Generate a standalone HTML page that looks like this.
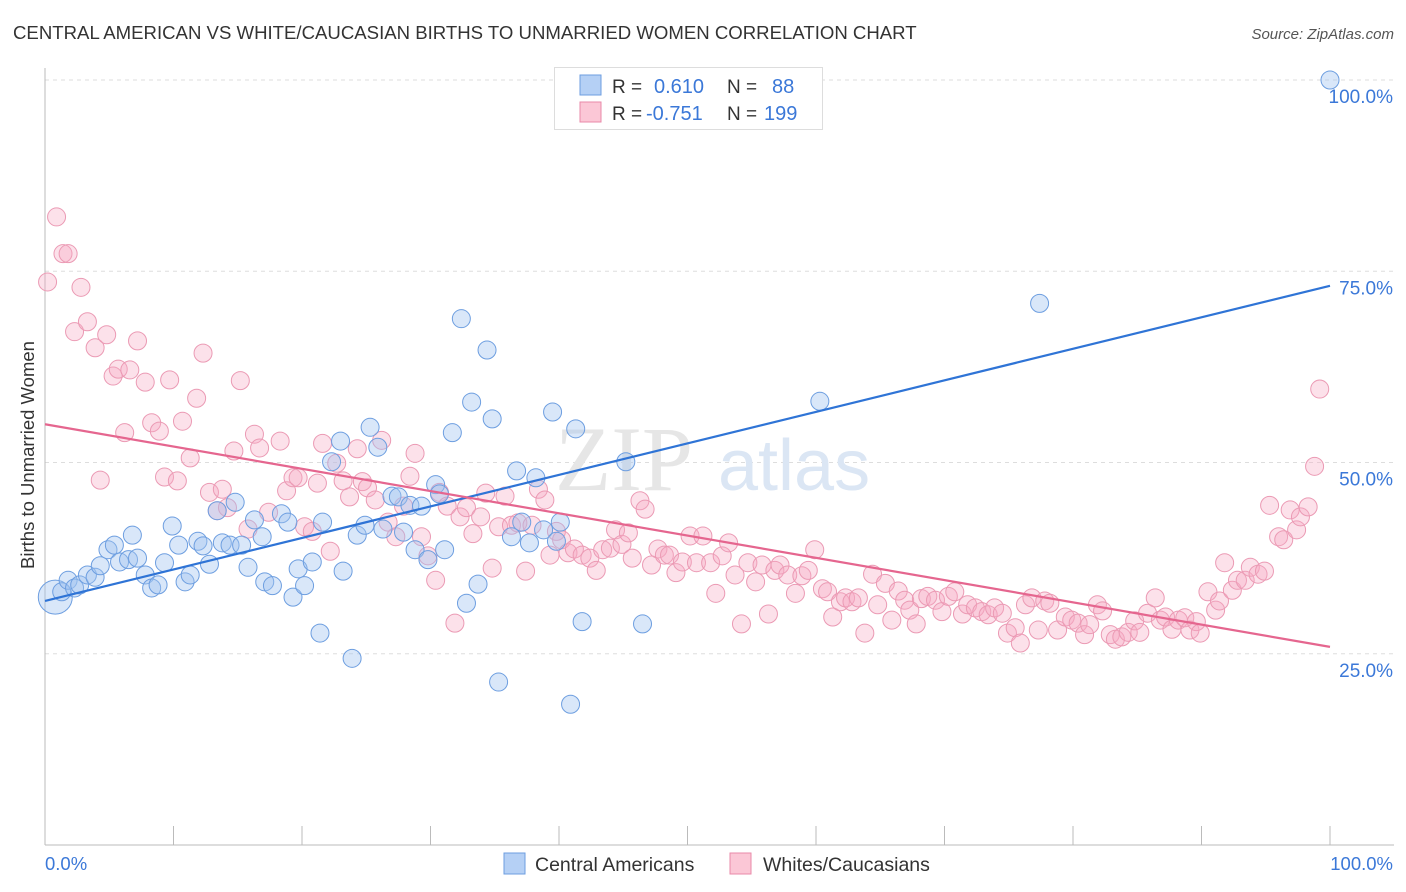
<!DOCTYPE html>
<html><head><meta charset="utf-8"><style>
body{margin:0;background:#fff;font-family:"Liberation Sans",sans-serif;}
svg{display:block}
</style></head><body>
<svg id="chart" width="1406" height="892" xmlns="http://www.w3.org/2000/svg">
<text x="13" y="39" font-size="18.6" fill="#333">CENTRAL AMERICAN VS WHITE/CAUCASIAN BIRTHS TO UNMARRIED WOMEN CORRELATION CHART</text>
<text x="1394" y="39" font-size="15" fill="#555" font-style="italic" text-anchor="end">Source: ZipAtlas.com</text>
<g id="grid"></g>
<text x="555" y="490" font-size="92" fill="#e6e6e6" font-family="Liberation Serif,serif">ZIP</text>
<text x="718" y="490" font-size="72" fill="#dbe6f4">atlas</text>
<g id="pinkPts"></g>
<g id="bluePts"></g>
<g id="lines"></g>
<text transform="translate(34,455) rotate(-90)" font-size="18.5" fill="#333" text-anchor="middle">Births to Unmarried Women</text>
<text x="45" y="870" font-size="18.5" fill="#3b78d8">0.0%</text>
<text x="1393" y="870" font-size="18.5" fill="#3b78d8" text-anchor="end">100.0%</text>
<g>
<rect x="554.5" y="67.5" width="268" height="62" fill="#fff" stroke="#ddd"/>
<rect x="580" y="75" width="21" height="20" fill="#b5d0f5" stroke="#6d9ee0"/>
<rect x="580" y="102" width="21" height="20" fill="#fbc7d6" stroke="#e88aa8"/>
<text x="612" y="93" font-size="19" fill="#333">R = </text><text x="654" y="93" font-size="20" fill="#3b78d8">0.610</text>
<text x="727" y="93" font-size="19" fill="#333">N = </text><text x="772" y="93" font-size="20" fill="#3b78d8">88</text>
<text x="612" y="120" font-size="19" fill="#333">R = </text><text x="646" y="120" font-size="20" fill="#3b78d8">-0.751</text>
<text x="727" y="120" font-size="19" fill="#333">N = </text><text x="764" y="120" font-size="20" fill="#3b78d8">199</text>
</g>
<g>
<rect x="504" y="853" width="21" height="21" fill="#b5d0f5" stroke="#6d9ee0"/>
<text x="535" y="871" font-size="19.5" fill="#333">Central Americans</text>
<rect x="730" y="853" width="21" height="21" fill="#fbc7d6" stroke="#e88aa8"/>
<text x="763" y="871" font-size="19.5" fill="#333">Whites/Caucasians</text>
</g>
</svg>
<script>
const yTicks=[25,50,75,100];
const yTickLabels=["25.0%","50.0%","75.0%","100.0%"];
const xTicks=[0,10,20,30,40,50,60,70,80,90,100];
const blueX=[0.8,1.3,1.8,2.3,2.7,3.3,3.9,4.3,4.9,5.4,5.8,6.5,6.8,7.2,7.8,8.3,8.8,9.3,9.9,10.4,10.9,11.3,11.9,12.3,12.8,13.4,13.8,14.4,14.8,15.3,15.8,16.3,16.9,17.1,17.7,18.4,18.9,19.3,19.7,20.2,20.8,21.4,21.6,22.3,23.0,23.2,23.9,24.3,24.9,25.3,25.9,26.3,27.0,27.5,27.9,28.4,28.8,29.3,29.8,30.4,30.7,31.1,31.7,32.4,32.8,33.2,33.7,34.4,34.8,35.3,36.3,36.7,37.1,37.7,38.2,38.8,39.5,39.8,40.1,40.9,41.3,41.8,45.2,46.5,60.3,77.4,100];
const blueY=[32.4,33.1,34.6,33.6,34.0,35.3,35.0,36.5,38.6,39.2,37.0,37.3,40.5,37.5,35.3,33.6,34.0,36.9,41.7,39.2,34.4,35.3,39.7,39.1,36.7,43.7,39.5,39.2,44.8,39.2,36.3,42.5,40.3,34.4,33.9,43.3,42.2,32.4,36.1,33.9,37.0,27.7,42.2,50.1,52.8,35.8,24.4,40.5,41.8,54.6,52.0,41.3,45.6,45.5,40.9,44.4,38.6,44.3,37.3,47.1,45.9,38.6,53.9,68.8,31.6,57.9,34.1,64.7,55.7,21.3,40.3,48.9,42.2,39.5,48.0,41.2,56.6,39.7,42.2,18.4,54.4,29.2,50.1,28.9,58.0,70.8,100];
const pinkX=[0.2,0.9,1.4,1.8,2.3,2.8,3.3,3.9,4.3,4.8,5.3,5.7,6.2,6.6,7.2,7.8,8.3,8.9,9.3,9.7,10.3,10.7,11.3,11.8,12.3,12.8,13.4,13.8,14.2,14.7,15.2,15.8,16.3,16.7,17.4,18.3,18.8,19.3,19.7,20.2,20.8,21.2,21.6,22.2,22.7,23.2,23.7,24.3,24.7,25.1,25.7,26.2,26.7,27.3,27.9,28.4,28.8,29.3,29.8,30.4,30.7,31.3,31.9,32.3,32.8,33.3,33.9,34.3,34.8,35.3,35.8,36.3,36.8,37.4,37.9,38.4,38.9,39.3,39.8,40.2,40.7,41.2,41.8,42.4,42.9,43.4,44.0,44.4,44.9,45.4,45.7,46.3,46.7,47.2,47.7,48.2,48.6,49.1,49.6,50.2,50.7,51.2,51.8,52.2,52.7,53.2,53.7,54.2,54.7,55.3,55.8,56.3,56.8,57.2,57.8,58.4,58.9,59.4,59.9,60.5,60.9,61.3,61.9,62.3,62.8,63.3,63.8,64.4,64.8,65.4,65.9,66.4,66.9,67.3,67.8,68.2,68.7,69.3,69.8,70.3,70.8,71.4,71.8,72.4,72.9,73.4,73.9,74.5,74.9,75.5,75.9,76.3,76.8,77.3,77.8,78.2,78.8,79.4,79.9,80.4,80.9,81.3,81.9,82.3,82.9,83.3,83.8,84.3,84.8,85.2,85.8,86.4,86.8,87.2,87.7,88.2,88.7,89.1,89.6,89.9,90.5,91.1,91.4,91.8,92.4,92.8,93.4,93.8,94.4,94.9,95.3,96.0,96.4,96.9,97.4,97.7,98.3,98.8,99.2];
const pinkY=[73.6,82.1,77.3,77.3,67.1,72.9,68.4,65.0,47.7,66.7,61.3,62.2,53.9,62.1,65.9,60.5,55.2,54.1,48.1,60.8,47.6,55.4,50.6,58.4,64.3,46.1,43.7,46.5,44.1,51.5,60.7,41.3,53.7,51.9,43.5,52.8,46.3,48.0,48.0,41.6,41.0,47.3,52.5,38.4,49.9,47.6,45.5,51.8,47.5,46.7,45.1,52.9,42.2,40.3,44.3,48.2,51.2,40.3,37.8,34.6,46.1,44.3,29.0,42.9,44.1,40.7,42.9,46.0,36.2,41.6,45.6,41.8,42.1,35.8,41.8,46.5,45.1,37.9,41.0,39.9,38.2,38.7,37.9,37.5,35.9,38.6,38.8,41.2,39.3,40.8,37.5,45.0,43.9,36.6,38.7,37.9,37.9,35.6,37.0,40.4,36.9,40.4,36.9,32.9,37.8,39.5,35.3,28.9,36.9,34.4,36.6,30.2,35.9,36.6,35.3,32.9,35.2,35.9,38.6,33.5,33.1,29.8,31.8,32.3,31.8,32.3,27.7,35.4,31.4,34.2,29.4,33.2,32.0,30.7,28.9,32.2,32.5,32.0,30.5,32.5,33.1,30.2,31.4,31.0,30.5,30.1,31.0,30.3,27.7,28.4,26.4,31.4,32.3,28.1,31.9,31.6,28.1,29.8,29.4,29.0,27.5,28.8,31.4,30.6,27.5,26.9,27.2,27.8,29.3,27.8,30.3,32.3,29.4,29.8,28.2,29.4,29.7,28.1,29.2,27.7,33.1,30.7,31.9,36.9,33.3,34.6,34.6,36.3,35.4,35.8,44.4,40.3,39.9,43.8,41.2,42.9,44.2,49.5,59.6];
const blueTrend=[31.9,73.1];
const pinkTrend=[55.0,25.9];
const NS="http://www.w3.org/2000/svg";
const X0=45,X1=1330,Y0=845,Y100=80;
function sx(v){return X0+(X1-X0)*v/100;}
function sy(v){return Y0-(Y0-Y100)*v/100;}
function mk(tag,attrs,parent){const e=document.createElementNS(NS,tag);for(const k in attrs)e.setAttribute(k,attrs[k]);parent.appendChild(e);return e;}
const grid=document.getElementById('grid');
yTicks.forEach((t,i)=>{
  const l=mk('line',{x1:X0,x2:1394,y1:sy(t),y2:sy(t),stroke:'#ddd','stroke-dasharray':'4,4'},grid);
  
  
  const tx=mk('text',{x:1393,y:sy(t)+23,'font-size':19,fill:'#3b78d8','text-anchor':'end'},grid);
  tx.textContent=yTickLabels[i];
  
  
});
const ax=mk('line',{x1:X0,x2:1394,y1:Y0,y2:Y0,stroke:'#bbb'},grid);


const ay=mk('line',{x1:X0,x2:X0,y1:68,y2:Y0,stroke:'#bbb'},grid);


xTicks.forEach(t=>{
  const l=mk('line',{x1:sx(t),x2:sx(t),y1:826,y2:Y0,stroke:'#bbb'},grid);
  
  
});
const pg=document.getElementById('pinkPts');
pinkX.forEach((x,i)=>{
  const c=mk('circle',{cx:sx(x),cy:sy(pinkY[i]),r:9,fill:'rgba(245,170,195,0.35)',stroke:'#eb9ab4','stroke-width':1},pg);
  
  
});
const bg=document.getElementById('bluePts');
blueX.forEach((x,i)=>{
  const c=mk('circle',{cx:sx(x),cy:sy(blueY[i]),r:i===0?17:9,fill:'rgba(160,195,240,0.4)',stroke:'#6d9ee0','stroke-width':1},bg);
  
  
});
const lg=document.getElementById('lines');
const bl=mk('line',{x1:sx(0),y1:sy(blueTrend[0]),x2:sx(100),y2:sy(blueTrend[1]),stroke:'#2f74d6','stroke-width':2.2},lg);


const pl=mk('line',{x1:sx(0),y1:sy(pinkTrend[0]),x2:sx(100),y2:sy(pinkTrend[1]),stroke:'#e5668f','stroke-width':2.2},lg);


</script>
</body></html>
